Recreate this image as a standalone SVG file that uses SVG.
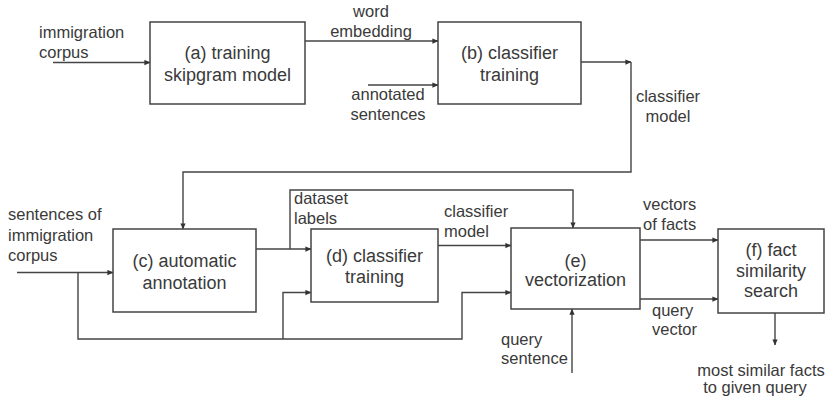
<svg xmlns="http://www.w3.org/2000/svg" width="828" height="402" viewBox="0 0 828 402">
  <defs>
    <marker id="arrow" viewBox="0 0 8 8" refX="7.5" refY="4" markerWidth="6" markerHeight="6" orient="auto" markerUnits="userSpaceOnUse">
      <path d="M0,0.5 L8,4 L0,7.5 Z" fill="#333"/>
    </marker>
    <style>
      rect { fill: #fff; stroke: #444; stroke-width: 1.5; }
      .c { fill: none; stroke: #444; stroke-width: 1.4; }
      .a { marker-end: url(#arrow); }
      text { font-family: "Liberation Sans", Arial, sans-serif; fill: #3a3a3a; }
      .n { font-size: 18px; text-anchor: middle; }
      .l { font-size: 16.5px; }
      .m { text-anchor: middle; }
    </style>
  </defs>
  <rect x="0" y="0" width="828" height="402" style="fill:#fff;stroke:none"/>

  <!-- connectors -->
  <g id="connectors">
    <path class="c a" d="M53,62.5 H150"/>
    <path class="c a" d="M305,41 H438"/>
    <path class="c a" d="M368,85 H438"/>
    <path class="c a" d="M581,62 H631"/>
    <path class="c a" d="M631,62 V172 H183 V229"/>
    <path class="c a" d="M17,272.5 H113"/>
    <path class="c a" d="M78,272.5 V339 H462 V292.5 H511"/>
    <path class="c a" d="M283,339 V292.5 H311"/>
    <path class="c a" d="M256,249 H311"/>
    <path class="c a" d="M290,249 V190 H573 V228"/>
    <path class="c a" d="M438,245.5 H511"/>
    <path class="c a" d="M572,373 V309"/>
    <path class="c a" d="M640,240 H718"/>
    <path class="c a" d="M640,299 H718"/>
    <path class="c a" d="M775,313 V345"/>
  </g>

  <!-- edge labels -->
  <g id="labels" class="l">
    <text x="39" y="38">immigration</text>
    <text x="39" y="58">corpus</text>
    <text x="371" y="17" class="m">word</text>
    <text x="371" y="37" class="m">embedding</text>
    <text x="388" y="100" class="m">annotated</text>
    <text x="388" y="120" class="m">sentences</text>
    <text x="668" y="102" class="m">classifier</text>
    <text x="668" y="122" class="m">model</text>
    <text x="8" y="220">sentences of</text>
    <text x="8" y="241">immigration</text>
    <text x="8" y="261">corpus</text>
    <text x="294" y="204">dataset</text>
    <text x="294" y="224">labels</text>
    <text x="444" y="217">classifier</text>
    <text x="444" y="237">model</text>
    <text x="501" y="345">query</text>
    <text x="501" y="364">sentence</text>
    <text x="643" y="210">vectors</text>
    <text x="643" y="230">of facts</text>
    <text x="652" y="316">query</text>
    <text x="652" y="335">vector</text>
    <text x="761" y="376" class="m">most similar facts</text>
    <text x="755" y="393" class="m">to given query</text>
  </g>

  <!-- nodes -->
  <g id="node-a">
    <rect x="150" y="22" width="155" height="82"/>
    <text class="n" x="227.5" y="59">(a) training</text>
    <text class="n" x="227.5" y="81">skipgram model</text>
  </g>
  <g id="node-b">
    <rect x="438" y="22" width="143" height="82"/>
    <text class="n" x="509.5" y="59">(b) classifier</text>
    <text class="n" x="509.5" y="81">training</text>
  </g>
  <g id="node-c">
    <rect x="113" y="229" width="143" height="83"/>
    <text class="n" x="184.5" y="267">(c) automatic</text>
    <text class="n" x="184.5" y="289">annotation</text>
  </g>
  <g id="node-d">
    <rect x="311" y="229" width="127" height="73"/>
    <text class="n" x="374.5" y="262">(d) classifier</text>
    <text class="n" x="374.5" y="283">training</text>
  </g>
  <g id="node-e">
    <rect x="511" y="228" width="129" height="81"/>
    <text class="n" x="575.5" y="267">(e)</text>
    <text class="n" x="575.5" y="286">vectorization</text>
  </g>
  <g id="node-f">
    <rect x="718" y="229" width="106" height="84"/>
    <text class="n" x="771" y="256">(f) fact</text>
    <text class="n" x="771" y="277">similarity</text>
    <text class="n" x="771" y="297">search</text>
  </g>
</svg>
